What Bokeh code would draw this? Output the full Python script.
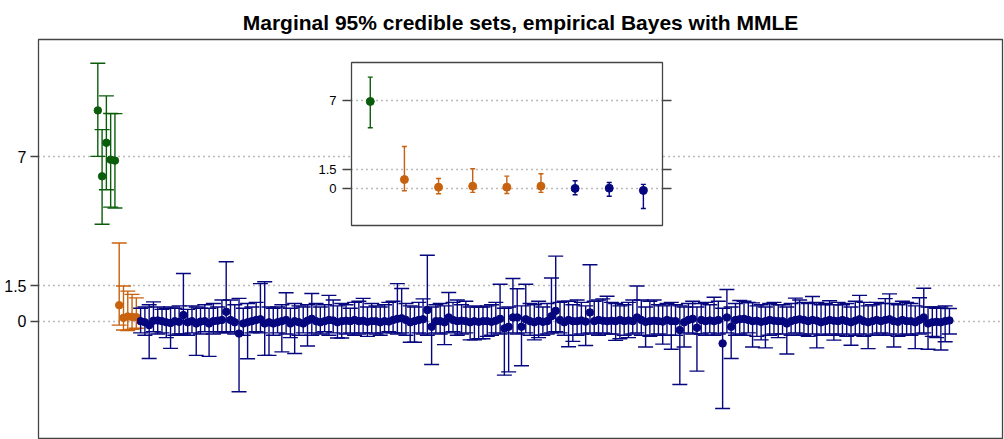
from bokeh.plotting import figure
from bokeh.models import (ColumnDataSource, Range1d, FixedTicker, LinearAxis,
                          Whisker, TeeHead)
from bokeh.embed import file_html
from bokeh.resources import INLINE

# ---------------- data ----------------
tick_values = [0, 1.5, 7]
tick_labels = ["0", "1.5", "7"]
title_text = "Marginal 95% credible sets, empirical Bayes with MMLE"

green_est = [8.98, 6.17, 7.6, 6.88, 6.84]
green_lo = [7.02, 4.13, 5.6, 4.86, 4.82]
green_hi = [10.99, 8.16, 9.6, 8.85, 8.84]

orange_est = [0.68, 0.14, 0.2, 0.18, 0.17]
orange_lo = [-0.17, -0.38, -0.4, -0.35, -0.3]
orange_hi = [3.33, 1.5, 1.28, 1.14, 0.99]

navy_est = [
    0.0, -0.05, -0.17, 0.02, 0.03, 0.0, -0.05, -0.08, 0.0, -0.03,
    0.26, -0.05, 0.0, -0.1, -0.02, 0.0, -0.1, 0.0, 0.02, 0.05,
    0.4, 0.05, -0.05, -0.53, -0.1, -0.05, 0.0, 0.05, 0.08, -0.1,
    -0.05, -0.1, -0.05, 0.0, 0.05, -0.1, 0.0, -0.05, -0.1, 0.02,
    0.1, 0.0, -0.05, 0.0, 0.05, 0.03, -0.05, 0.0, 0.02, 0.0,
    0.05, 0.0, 0.02, -0.03, 0.0, 0.0, -0.05, 0.0, -0.02, 0.05,
    0.1, 0.12, 0.05, -0.05, 0.0, 0.05, 0.08, 0.47, -0.24, 0.0,
    0.0, -0.05, 0.16, 0.05, 0.0, 0.02, 0.0, -0.05, 0.0, -0.03,
    0.0, 0.0, -0.03, 0.02, 0.1, -0.31, -0.24, 0.16, 0.16, -0.24,
    0.08, 0.0, -0.05, 0.02, -0.03, 0.0, 0.21, 0.44, 0.05, -0.05,
    0.05, 0.0, 0.0, 0.03, -0.02, 0.37, 0.0, 0.05, 0.02, 0.0,
    0.02, 0.0, 0.05, 0.0, 0.03, 0.0, 0.16, 0.05, -0.03, 0.0,
    0.02, 0.0, -0.02, 0.05, 0.0, 0.0, -0.38, -0.05, 0.05, 0.1,
    -0.28, 0.05, 0.0, 0.03, 0.0, 0.05, -0.95, 0.16, -0.24, 0.05,
    0.08, 0.1, 0.05, 0.0, 0.02, -0.03, 0.0, 0.05, 0.02, 0.0,
    0.0, -0.1, 0.0, 0.05, 0.08, 0.05, 0.0, 0.05, 0.02, -0.05,
    0.0, 0.05, 0.02, 0.0, 0.05, 0.0, -0.05, 0.02, 0.08, 0.0,
    -0.05, 0.0, 0.05, 0.0, 0.05, 0.08, 0.0, -0.03, 0.05, 0.0,
    0.0, -0.05, 0.05, 0.16, -0.1, -0.05, -0.03, -0.05, 0.0, 0.03,
]
navy_lo = [
    -0.5, -0.6, -1.59, -0.45, -0.55, -0.5, -0.7, -1.16, -0.6, -0.55,
    -0.55, -0.6, -0.5, -1.46, -0.55, -0.45, -1.5, -0.55, -0.45, -0.5,
    -0.5, -0.45, -0.55, -3.01, -0.6, -1.6, -0.5, -0.45, -0.5, -1.46,
    -1.46, -0.6, -0.5, -1.31, -0.55, -0.7, -1.38, -0.6, -0.5, -1.06,
    -0.6, -0.5, -0.55, -0.45, -0.6, -0.5, -0.72, -0.72, -0.55, -0.5,
    -0.6, -0.55, -0.5, -0.65, -0.5, -0.55, -0.6, -0.5, -0.45, -0.5,
    -0.55, -0.5, -0.6, -0.9, -0.9, -0.5, -0.55, -0.6, -1.85, -0.5,
    -0.55, -1.0, -0.5, -0.45, -0.6, -0.55, -0.5, -0.8, -0.8, -0.75,
    -0.75, -0.65, -0.6, -0.5, -0.55, -2.3, -2.16, -0.5, -0.55, -1.9,
    -0.5, -0.6, -0.8, -0.7, -0.6, -0.55, -0.5, -0.45, -0.5, -0.6,
    -1.09, -0.86, -0.6, -0.55, -1.04, -0.5, -0.55, -0.6, -0.5, -0.55,
    -0.55, -0.82, -0.75, -0.6, -0.7, -0.55, -0.5, -0.6, -1.1, -0.65,
    -0.6, -0.55, -0.98, -0.6, -1.2, -0.6, -2.7, -1.1, -0.5, -0.55,
    -2.13, -0.55, -0.6, -0.5, -0.6, -0.55, -3.72, -0.5, -1.59, -0.6,
    -0.55, -0.6, -0.5, -1.1, -0.65, -0.8, -1.14, -0.6, -0.55, -0.7,
    -0.55, -1.4, -0.6, -0.5, -0.55, -0.6, -0.65, -0.55, -1.14, -0.6,
    -0.6, -0.55, -0.81, -0.6, -0.55, -0.65, -1.03, -0.6, -0.55, -0.65,
    -1.17, -0.6, -0.55, -0.5, -0.6, -0.55, -1.1, -0.65, -0.6, -0.55,
    -0.6, -1.17, -0.55, -0.5, -1.2, -0.65, -0.7, -1.23, -0.88, -0.55,
]
navy_hi = [
    0.55, 0.6, 0.7, 0.82, 0.6, 0.5, 0.55, 0.6, 0.55, 0.65,
    2.03, 0.5, 0.65, 0.6, 0.55, 0.7, 0.55, 0.75, 0.6, 0.9,
    2.53, 0.9, 0.7, 0.97, 0.55, 0.75, 0.6, 0.8, 1.6, 1.68,
    0.6, 0.55, 0.6, 0.7, 1.21, 0.55, 0.75, 0.65, 0.6, 0.7,
    1.18, 0.75, 0.6, 0.7, 1.1, 0.9, 0.65, 0.75, 0.7, 0.55,
    0.8, 0.85, 0.97, 0.6, 0.75, 0.65, 0.6, 0.7, 0.8, 0.85,
    1.6, 1.39, 0.75, 0.65, 0.6, 0.8, 0.95, 2.81, 0.6, 0.7,
    0.75, 0.65, 1.22, 0.8, 0.9, 0.7, 0.85, 0.6, 0.65, 0.6,
    0.6, 0.65, 0.7, 0.8, 1.57, 0.55, 0.6, 1.82, 1.38, 0.65,
    1.57, 0.75, 0.7, 0.85, 0.6, 0.75, 1.84, 2.77, 0.8, 0.85,
    0.85, 0.7, 0.9, 0.8, 0.65, 2.4, 0.85, 0.9, 0.95, 1.06,
    0.8, 0.75, 0.65, 0.7, 0.8, 0.9, 1.5, 0.9, 0.6, 0.85,
    0.9, 0.7, 0.65, 0.75, 0.8, 0.7, 0.65, 0.6, 0.75, 0.85,
    0.6, 0.75, 0.8, 0.7, 1.02, 0.85, 0.55, 1.35, 0.6, 0.75,
    0.88, 0.85, 0.8, 0.78, 0.65, 0.7, 0.6, 0.75, 0.8, 0.7,
    0.7, 0.6, 0.75, 0.98, 0.9, 0.8, 0.75, 1.05, 0.8, 0.7,
    0.75, 0.87, 0.7, 0.8, 0.7, 0.75, 0.6, 0.85, 1.1, 0.8,
    0.65, 0.7, 0.8, 0.75, 0.96, 1.16, 0.75, 0.7, 0.85, 0.8,
    0.75, 0.65, 1.0, 1.4, 0.6, 0.6, 0.55, 0.6, 0.65, 0.54,
]

inset_est = [6.92, 0.69, 0.08, 0.16, 0.08, 0.16, -0.02, 0.0, -0.18]
inset_lo = [4.82, -0.21, -0.45, -0.34, -0.42, -0.34, -0.53, -0.64, -1.62]
inset_hi = [8.86, 3.33, 0.77, 1.55, 0.96, 1.15, 0.59, 0.45, 0.3]
inset_group = ["green", "orange", "orange", "orange", "orange", "orange",
               "navy", "navy", "navy"]

COLORS = {"green": "#0b5d0b", "orange": "#c8620e", "navy": "#06067e"}
FONT = "Liberation Sans"

# ---------------- main figure ----------------
p = figure(width=1004, height=439, output_backend="svg", toolbar_location=None,
           x_range=Range1d(-12.86, 212.4), y_range=Range1d(-5.0, 12.0),
           x_axis_location=None, min_border_left=38, min_border_right=2,
           min_border_top=39, min_border_bottom=1)
p.title.text = title_text
p.title.align = "center"
p.title.text_font = FONT
p.title.text_font_size = "21px"
p.title.text_font_style = "bold"
p.title.text_color = "black"
p.title.offset = 0
p.title.standoff = 11
p.outline_line_color = "#444444"
p.outline_line_width = 1.3
p.background_fill_color = "white"
p.border_fill_color = "white"

ya = p.yaxis[0]
ya.ticker = FixedTicker(ticks=tick_values)
ya.major_label_overrides = dict(zip(tick_values, tick_labels))
ya.minor_tick_line_color = None
ya.axis_line_color = None
ya.major_tick_out = 8
ya.major_tick_in = 0
ya.major_tick_line_color = "#444444"
ya.major_tick_line_width = 1.3
ya.major_label_standoff = 4
ya.major_label_text_font = FONT
ya.major_label_text_font_size = "16px"
ya.major_label_text_color = "black"

p.xgrid.visible = False
p.ygrid.ticker = FixedTicker(ticks=tick_values)
p.ygrid.grid_line_color = "#777777"
p.ygrid.grid_line_dash = "1 4"
p.ygrid.grid_line_width = 1.5


def add_group(fig, xs, est, lo, hi, color, cap, size, lw):
    src = ColumnDataSource(dict(x=xs, est=est, lo=lo, hi=hi))
    w = Whisker(base="x", lower="lo", upper="hi", source=src, dimension="height",
                line_color=color, line_width=lw,
                upper_head=TeeHead(size=cap, line_color=color, line_width=lw),
                lower_head=TeeHead(size=cap, line_color=color, line_width=lw))
    w.level = "glyph"
    fig.add_layout(w)
    fig.scatter("x", "est", source=src, size=size, color=color)


n_g, n_o, n_n = len(green_est), len(orange_est), len(navy_est)
idx_g = list(range(1, n_g + 1))
idx_o = list(range(n_g + 1, n_g + n_o + 1))
idx_n = list(range(n_g + n_o + 1, n_g + n_o + n_n + 1))

add_group(p, idx_g, green_est, green_lo, green_hi, COLORS["green"], 15, 7.5, 1.4)
add_group(p, idx_o, orange_est, orange_lo, orange_hi, COLORS["orange"], 15, 7.5, 1.4)
add_group(p, idx_n, navy_est, navy_lo, navy_hi, COLORS["navy"], 15, 7.5, 1.4)

# ---------------- inset figure ----------------
q = figure(width=362, height=175, output_backend="svg", toolbar_location=None,
           title=None,
           x_range=Range1d(0.45, 9.56), y_range=Range1d(-2.98, 10.03),
           x_axis_location=None, min_border_left=39, min_border_right=12,
           min_border_top=10, min_border_bottom=2)
q.border_fill_color = None
q.background_fill_color = "white"
q.outline_line_color = "#444444"
q.outline_line_width = 1.3
q.styles = {"position": "absolute", "left": "312px", "top": "52px",
            "z-index": "2"}

qa = q.yaxis[0]
qa.ticker = FixedTicker(ticks=tick_values)
qa.major_label_overrides = dict(zip(tick_values, tick_labels))
qa.major_label_text_font = FONT
qa.major_label_text_font_size = "13px"
qa.major_label_text_color = "black"
qa.major_label_standoff = 6

rax = LinearAxis(ticker=FixedTicker(ticks=tick_values),
                 major_label_overrides={t: "" for t in tick_values},
                 major_label_standoff=0)
q.add_layout(rax, "right")
for ax in (qa, rax):
    ax.minor_tick_line_color = None
    ax.axis_line_color = None
    ax.major_tick_out = 9
    ax.major_tick_in = 0
    ax.major_tick_line_color = "#444444"
    ax.major_tick_line_width = 1.3

q.xgrid.visible = False
q.ygrid.ticker = FixedTicker(ticks=tick_values)
q.ygrid.grid_line_color = "#777777"
q.ygrid.grid_line_dash = "1 4"
q.ygrid.grid_line_width = 1.5

inset_x = list(range(1, len(inset_est) + 1))
for grp in ("green", "orange", "navy"):
    sel = [k for k, g in enumerate(inset_group) if g == grp]
    add_group(q, [inset_x[k] for k in sel], [inset_est[k] for k in sel],
              [inset_lo[k] for k in sel], [inset_hi[k] for k in sel],
              COLORS[grp], 5, 8, 1.4)

open("out.html", "w").write(file_html([p, q], INLINE))
